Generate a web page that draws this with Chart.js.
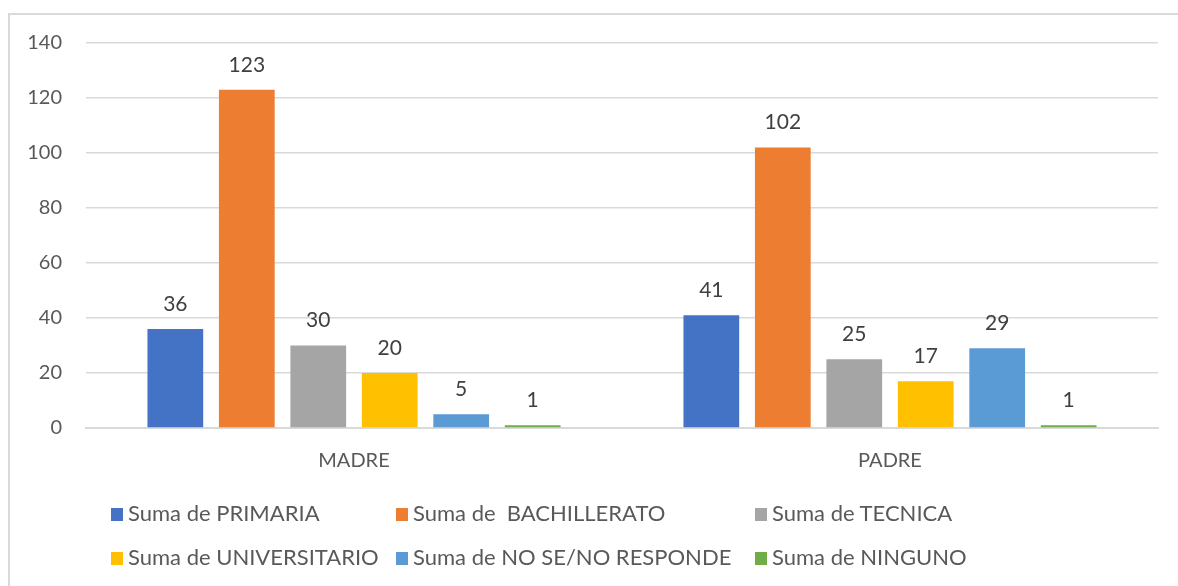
<!DOCTYPE html>
<html>
<head>
<meta charset="utf-8">
<script src="https://cdn.jsdelivr.net/npm/chart.js@4"></script>
<style>
  body { margin: 0; background: #fff; }
  #wrap { position: relative; width: 1178px; height: 586px; overflow: hidden; }
  #marco { position: absolute; left: 8px; top: 13px; width: 1200px; height: 620px; border: 2px solid #d9d9d9; box-sizing: border-box; }
  #canvas { position: absolute; left: 0; top: 0; }
  .leyenda { position: absolute; font-family: Lato, sans-serif; font-size: 22px; color: #595959; white-space: pre; line-height: 22px; }
  .leyenda span { display: inline-block; width: 12px; height: 13px; margin-right: 5px; vertical-align: 0px; }
</style>
</head>
<body>
<div id="wrap">
  <div id="marco"></div>
  <canvas id="canvas" width="1178" height="586"></canvas>
</div>
<script>
// Datos
const categorias = ["MADRE", "PADRE"];
const series = ["Suma de PRIMARIA", "Suma de  BACHILLERATO", "Suma de TECNICA",
  "Suma de UNIVERSITARIO", "Suma de NO SE/NO RESPONDE", "Suma de NINGUNO"];
const primaria = [36, 41];
const bachillerato = [123, 102];
const tecnica = [30, 25];
const universitario = [20, 17];
const noResponde = [5, 29];
const ninguno = [1, 1];
const ticksY = [0, 20, 40, 60, 80, 100, 120, 140];

const colores = ["#4472C4", "#ED7D31", "#A5A5A5", "#FFC000", "#5B9BD5", "#70AD47"];
const valores = [primaria, bachillerato, tecnica, universitario, noResponde, ninguno];

// Etiquetas de datos encima de cada barra
const etiquetas = {
  id: "etiquetas",
  afterDatasetsDraw(chart) {
    const ctx = chart.ctx;
    ctx.save();
    ctx.font = "21px Lato, sans-serif";
    ctx.fillStyle = "#404040";
    ctx.textAlign = "center";
    ctx.textBaseline = "middle";
    chart.data.datasets.forEach((ds, i) => {
      chart.getDatasetMeta(i).data.forEach((bar, j) => {
        ctx.fillText(ds.data[j], bar.x, bar.y - 25);
      });
    });
    ctx.restore();
  },
};

const ctx = document.getElementById("canvas").getContext("2d");
new Chart(ctx, {
  type: "bar",
  data: {
    labels: categorias,
    datasets: series.map((s, i) => ({
      label: s,
      data: valores[i],
      backgroundColor: colores[i],
      categoryPercentage: 0.8,
      barPercentage: 0.78,
    })),
  },
  options: {
    responsive: false,
    animation: false,
    layout: { padding: { top: 43, right: 20, bottom: 116, left: 0 } },
    plugins: { legend: { display: false }, tooltip: { enabled: false } },
    scales: {
      x: {
        grid: { display: false, drawTicks: false },
        border: { color: "#d9d9d9", width: 2 },
        ticks: { color: "#595959", font: { family: "Lato", size: 20 }, padding: 21 },
        afterFit: (s) => { s.height = 42; },
      },
      y: {
        min: 0,
        max: 140,
        afterBuildTicks: (s) => { s.ticks = ticksY.map((v) => ({ value: v })); },
        grid: { color: "#d9d9d9", lineWidth: 1.5, drawTicks: false },
        border: { display: false },
        ticks: { color: "#595959", font: { family: "Lato", size: 20 }, padding: 24 },
        afterFit: (s) => { s.width = 86; },
      },
    },
  },
  plugins: [etiquetas],
});

// Leyenda en dos filas de tres columnas
const columnasX = [111, 396, 755];
const filasY = [502, 546];
const wrap = document.getElementById("wrap");
series.forEach((s, i) => {
  const d = document.createElement("div");
  d.className = "leyenda";
  d.style.left = columnasX[i % 3] + "px";
  d.style.top = filasY[Math.floor(i / 3)] + "px";
  d.innerHTML = `<span style="background:${colores[i]}"></span>${s}`;
  wrap.appendChild(d);
});
</script>
</body>
</html>
